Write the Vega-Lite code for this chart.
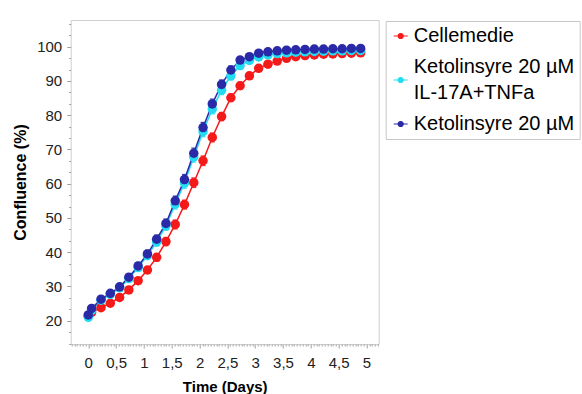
{
  "$schema": "https://vega.github.io/schema/vega-lite/v6.json",
  "autosize": "none",
  "width": 308,
  "height": 324,
  "padding": {"left": 70.7, "top": 20, "right": 203.3, "bottom": 50},
  "title": {"text": "C)", "anchor": "start", "frame": "group", "dx": -67, "offset": 12, "baseline": "alphabetic", "fontSize": 28, "fontWeight": "normal", "font": "Liberation Sans", "color": "#000000"},
  "config": {
    "font": "Liberation Sans",
    "view": {"stroke": "#cfcfcf", "strokeWidth": 1},
    "axis": {"grid": false, "domain": false, "tickColor": "#a0a0a0", "labelColor": "#222222", "titleColor": "#000000", "labelFont": "Liberation Sans", "titleFont": "Liberation Sans"}
  },
  "data": {"values": [
    {"s":"Cellemedie","t":0,"v":21.4,"e":0.5},
    {"s":"Cellemedie","t":0.06,"v":22.4,"e":0.5},
    {"s":"Cellemedie","t":0.229,"v":23.8,"e":0.6},
    {"s":"Cellemedie","t":0.396,"v":25.1,"e":0.6},
    {"s":"Cellemedie","t":0.563,"v":26.8,"e":0.7},
    {"s":"Cellemedie","t":0.729,"v":29.0,"e":0.8},
    {"s":"Cellemedie","t":0.896,"v":31.7,"e":0.9},
    {"s":"Cellemedie","t":1.063,"v":34.8,"e":1.0},
    {"s":"Cellemedie","t":1.229,"v":38.5,"e":1.1},
    {"s":"Cellemedie","t":1.396,"v":43.1,"e":1.2},
    {"s":"Cellemedie","t":1.563,"v":48.1,"e":1.3},
    {"s":"Cellemedie","t":1.729,"v":53.9,"e":1.3},
    {"s":"Cellemedie","t":1.896,"v":60.3,"e":1.4},
    {"s":"Cellemedie","t":2.063,"v":66.7,"e":1.4},
    {"s":"Cellemedie","t":2.229,"v":73.5,"e":1.3},
    {"s":"Cellemedie","t":2.396,"v":79.6,"e":1.2},
    {"s":"Cellemedie","t":2.563,"v":85.1,"e":1.1},
    {"s":"Cellemedie","t":2.729,"v":88.6,"e":1.0},
    {"s":"Cellemedie","t":2.896,"v":91.5,"e":0.9},
    {"s":"Cellemedie","t":3.063,"v":93.7,"e":0.8},
    {"s":"Cellemedie","t":3.229,"v":94.9,"e":0.7},
    {"s":"Cellemedie","t":3.396,"v":95.8,"e":0.6},
    {"s":"Cellemedie","t":3.563,"v":96.6,"e":0.6},
    {"s":"Cellemedie","t":3.729,"v":97.1,"e":0.5},
    {"s":"Cellemedie","t":3.896,"v":97.4,"e":0.5},
    {"s":"Cellemedie","t":4.063,"v":97.6,"e":0.5},
    {"s":"Cellemedie","t":4.229,"v":97.8,"e":0.5},
    {"s":"Cellemedie","t":4.396,"v":97.9,"e":0.5},
    {"s":"Cellemedie","t":4.563,"v":98.0,"e":0.5},
    {"s":"Cellemedie","t":4.729,"v":98.1,"e":0.5},
    {"s":"Cellemedie","t":4.896,"v":98.2,"e":0.5},
    {"s":"Ketolinsyre 20 µM IL-17A+TNFa","t":0,"v":21.0,"e":0.6},
    {"s":"Ketolinsyre 20 µM IL-17A+TNFa","t":0.06,"v":23.0,"e":0.6},
    {"s":"Ketolinsyre 20 µM IL-17A+TNFa","t":0.229,"v":26.0,"e":0.7},
    {"s":"Ketolinsyre 20 µM IL-17A+TNFa","t":0.396,"v":27.7,"e":0.7},
    {"s":"Ketolinsyre 20 µM IL-17A+TNFa","t":0.563,"v":29.6,"e":0.8},
    {"s":"Ketolinsyre 20 µM IL-17A+TNFa","t":0.729,"v":32.3,"e":0.9},
    {"s":"Ketolinsyre 20 µM IL-17A+TNFa","t":0.896,"v":35.5,"e":1.0},
    {"s":"Ketolinsyre 20 µM IL-17A+TNFa","t":1.063,"v":39.0,"e":1.1},
    {"s":"Ketolinsyre 20 µM IL-17A+TNFa","t":1.229,"v":43.0,"e":1.2},
    {"s":"Ketolinsyre 20 µM IL-17A+TNFa","t":1.396,"v":47.7,"e":1.3},
    {"s":"Ketolinsyre 20 µM IL-17A+TNFa","t":1.563,"v":54.0,"e":1.4},
    {"s":"Ketolinsyre 20 µM IL-17A+TNFa","t":1.729,"v":60.2,"e":1.5},
    {"s":"Ketolinsyre 20 µM IL-17A+TNFa","t":1.896,"v":67.8,"e":1.5},
    {"s":"Ketolinsyre 20 µM IL-17A+TNFa","t":2.063,"v":75.2,"e":1.5},
    {"s":"Ketolinsyre 20 µM IL-17A+TNFa","t":2.229,"v":81.8,"e":1.4},
    {"s":"Ketolinsyre 20 µM IL-17A+TNFa","t":2.396,"v":87.3,"e":1.3},
    {"s":"Ketolinsyre 20 µM IL-17A+TNFa","t":2.563,"v":91.5,"e":1.2},
    {"s":"Ketolinsyre 20 µM IL-17A+TNFa","t":2.729,"v":94.5,"e":1.0},
    {"s":"Ketolinsyre 20 µM IL-17A+TNFa","t":2.896,"v":96.0,"e":0.9},
    {"s":"Ketolinsyre 20 µM IL-17A+TNFa","t":3.063,"v":97.0,"e":0.8},
    {"s":"Ketolinsyre 20 µM IL-17A+TNFa","t":3.229,"v":97.6,"e":0.7},
    {"s":"Ketolinsyre 20 µM IL-17A+TNFa","t":3.396,"v":98.0,"e":0.6},
    {"s":"Ketolinsyre 20 µM IL-17A+TNFa","t":3.563,"v":98.2,"e":0.6},
    {"s":"Ketolinsyre 20 µM IL-17A+TNFa","t":3.729,"v":98.4,"e":0.5},
    {"s":"Ketolinsyre 20 µM IL-17A+TNFa","t":3.896,"v":98.5,"e":0.5},
    {"s":"Ketolinsyre 20 µM IL-17A+TNFa","t":4.063,"v":98.6,"e":0.5},
    {"s":"Ketolinsyre 20 µM IL-17A+TNFa","t":4.229,"v":98.7,"e":0.5},
    {"s":"Ketolinsyre 20 µM IL-17A+TNFa","t":4.396,"v":98.8,"e":0.5},
    {"s":"Ketolinsyre 20 µM IL-17A+TNFa","t":4.563,"v":98.8,"e":0.5},
    {"s":"Ketolinsyre 20 µM IL-17A+TNFa","t":4.729,"v":98.9,"e":0.5},
    {"s":"Ketolinsyre 20 µM IL-17A+TNFa","t":4.896,"v":98.9,"e":0.5},
    {"s":"Ketolinsyre 20 µM","t":0,"v":21.7,"e":0.6},
    {"s":"Ketolinsyre 20 µM","t":0.06,"v":23.6,"e":0.6},
    {"s":"Ketolinsyre 20 µM","t":0.229,"v":26.3,"e":0.7},
    {"s":"Ketolinsyre 20 µM","t":0.396,"v":28.0,"e":0.7},
    {"s":"Ketolinsyre 20 µM","t":0.563,"v":29.9,"e":0.8},
    {"s":"Ketolinsyre 20 µM","t":0.729,"v":32.7,"e":0.9},
    {"s":"Ketolinsyre 20 µM","t":0.896,"v":36.0,"e":1.0},
    {"s":"Ketolinsyre 20 µM","t":1.063,"v":39.5,"e":1.1},
    {"s":"Ketolinsyre 20 µM","t":1.229,"v":43.8,"e":1.2},
    {"s":"Ketolinsyre 20 µM","t":1.396,"v":48.4,"e":1.3},
    {"s":"Ketolinsyre 20 µM","t":1.563,"v":55.0,"e":1.4},
    {"s":"Ketolinsyre 20 µM","t":1.729,"v":61.2,"e":1.5},
    {"s":"Ketolinsyre 20 µM","t":1.896,"v":68.9,"e":1.5},
    {"s":"Ketolinsyre 20 µM","t":2.063,"v":76.4,"e":1.5},
    {"s":"Ketolinsyre 20 µM","t":2.229,"v":83.3,"e":1.4},
    {"s":"Ketolinsyre 20 µM","t":2.396,"v":89.0,"e":1.3},
    {"s":"Ketolinsyre 20 µM","t":2.563,"v":93.2,"e":1.2},
    {"s":"Ketolinsyre 20 µM","t":2.729,"v":96.1,"e":1.0},
    {"s":"Ketolinsyre 20 µM","t":2.896,"v":97.1,"e":0.9},
    {"s":"Ketolinsyre 20 µM","t":3.063,"v":98.1,"e":0.8},
    {"s":"Ketolinsyre 20 µM","t":3.229,"v":98.5,"e":0.7},
    {"s":"Ketolinsyre 20 µM","t":3.396,"v":98.8,"e":0.6},
    {"s":"Ketolinsyre 20 µM","t":3.563,"v":99.0,"e":0.6},
    {"s":"Ketolinsyre 20 µM","t":3.729,"v":99.1,"e":0.5},
    {"s":"Ketolinsyre 20 µM","t":3.896,"v":99.2,"e":0.5},
    {"s":"Ketolinsyre 20 µM","t":4.063,"v":99.3,"e":0.5},
    {"s":"Ketolinsyre 20 µM","t":4.229,"v":99.3,"e":0.5},
    {"s":"Ketolinsyre 20 µM","t":4.396,"v":99.4,"e":0.5},
    {"s":"Ketolinsyre 20 µM","t":4.563,"v":99.4,"e":0.5},
    {"s":"Ketolinsyre 20 µM","t":4.729,"v":99.5,"e":0.5},
    {"s":"Ketolinsyre 20 µM","t":4.896,"v":99.5,"e":0.5}
  ]},
  "encoding": {
    "x": {"field": "t", "type": "quantitative",
      "scale": {"domain": [-0.316, 5.22], "nice": false, "zero": false},
      "axis": {"title": "Time (Days)", "titleFontSize": 15, "titleFontWeight": "bold", "titlePadding": 9,
        "labelFontSize": 15, "labelPadding": 7, "labelOverlap": false, "labelFlush": false, "labelBound": false,
        "values": [-0.3,-0.25,-0.2,-0.15,-0.1,-0.05,0,0.05,0.1,0.15,0.2,0.25,0.3,0.35,0.4,0.45,0.5,0.55,0.6,0.65,0.7,0.75,0.8,0.85,0.9,0.95,1,1.05,1.1,1.15,1.2,1.25,1.3,1.35,1.4,1.45,1.5,1.55,1.6,1.65,1.7,1.75,1.8,1.85,1.9,1.95,2,2.05,2.1,2.15,2.2,2.25,2.3,2.35,2.4,2.45,2.5,2.55,2.6,2.65,2.7,2.75,2.8,2.85,2.9,2.95,3,3.05,3.1,3.15,3.2,3.25,3.3,3.35,3.4,3.45,3.5,3.55,3.6,3.65,3.7,3.75,3.8,3.85,3.9,3.95,4,4.05,4.1,4.15,4.2,4.25,4.3,4.35,4.4,4.45,4.5,4.55,4.6,4.65,4.7,4.75,4.8,4.85,4.9,4.95,5,5.05,5.1,5.15,5.2],
        "labelExpr": "(abs(datum.value*2 - round(datum.value*2)) < 0.001 && datum.value > -0.01) ? replace(format(datum.value, '~g'), '.', ',') : ''",
        "tickSize": {"condition": {"test": "abs(datum.value*2 - round(datum.value*2)) < 0.001", "value": 4}, "value": 2}
      }
    },
    "y": {"field": "v", "type": "quantitative",
      "scale": {"domain": [13.2, 107.8], "nice": false, "zero": false},
      "axis": {"title": "Confluence (%)", "titleFontSize": 16, "titleFontWeight": "bold", "titlePadding": 8,
        "labelFontSize": 15, "labelPadding": 5, "labelOverlap": false, "labelFlush": false, "labelBound": false,
        "values": [13.333,16.667,20,23.333,26.667,30,33.333,36.667,40,43.333,46.667,50,53.333,56.667,60,63.333,66.667,70,73.333,76.667,80,83.333,86.667,90,93.333,96.667,100,103.333,106.667],
        "labelExpr": "(abs(datum.value/10 - round(datum.value/10)) < 0.001 && datum.value > 19 && datum.value < 101) ? format(datum.value, 'd') : ''",
        "tickSize": {"condition": {"test": "abs(datum.value/10 - round(datum.value/10)) < 0.001", "value": 4}, "value": 2}
      }
    },
    "color": {"field": "s", "type": "nominal",
      "scale": {"domain": ["Cellemedie", "Ketolinsyre 20 µM IL-17A+TNFa", "Ketolinsyre 20 µM"], "range": ["#f51a1a", "#22dcf2", "#2a2aa8"]},
      "legend": {"title": null, "orient": "none", "legendX": 315, "legendY": 1, "padding": 5,
         "strokeColor": "#c8c8c8", "fillColor": "#ffffff",
         "symbolType": "M-1,0H1M-0.36,0A0.36,0.36,0,1,0,0.36,0A0.36,0.36,0,1,0,-0.36,0Z",
         "symbolSize": 196, "symbolStrokeWidth": 1.2, "labelFontSize": 20, "labelFont": "Liberation Sans", "labelColor": "#000000",
         "labelOffset": 3, "labelLimit": 300, "rowPadding": 11,
         "labelExpr": "indexof(datum.label, 'IL-17A') > 0 ? ['Ketolinsyre 20 µM', 'IL-17A+TNFa'] : datum.label",
         "encode": {"symbols": {"update": {"stroke": {"scale": "color", "field": "value"}, "fill": {"scale": "color", "field": "value"}, "strokeWidth": {"value": 1.2}, "opacity": {"value": 1}}},
                    "labels": {"update": {"lineHeight": {"value": 26}, "dy": {"signal": "indexof(datum.label, 'IL-17A') > 0 ? -13 : 0"}}}}
      }
    }
  },
  "layer": [
    {"mark": {"type": "line", "strokeWidth": 1.5}},
    {"mark": {"type": "errorbar", "ticks": true, "thickness": 1.2, "opacity": 0.9}, "encoding": {"yError": {"field": "e"}}},
    {"mark": {"type": "point", "filled": true, "size": 90, "opacity": 1}}
  ]
}
